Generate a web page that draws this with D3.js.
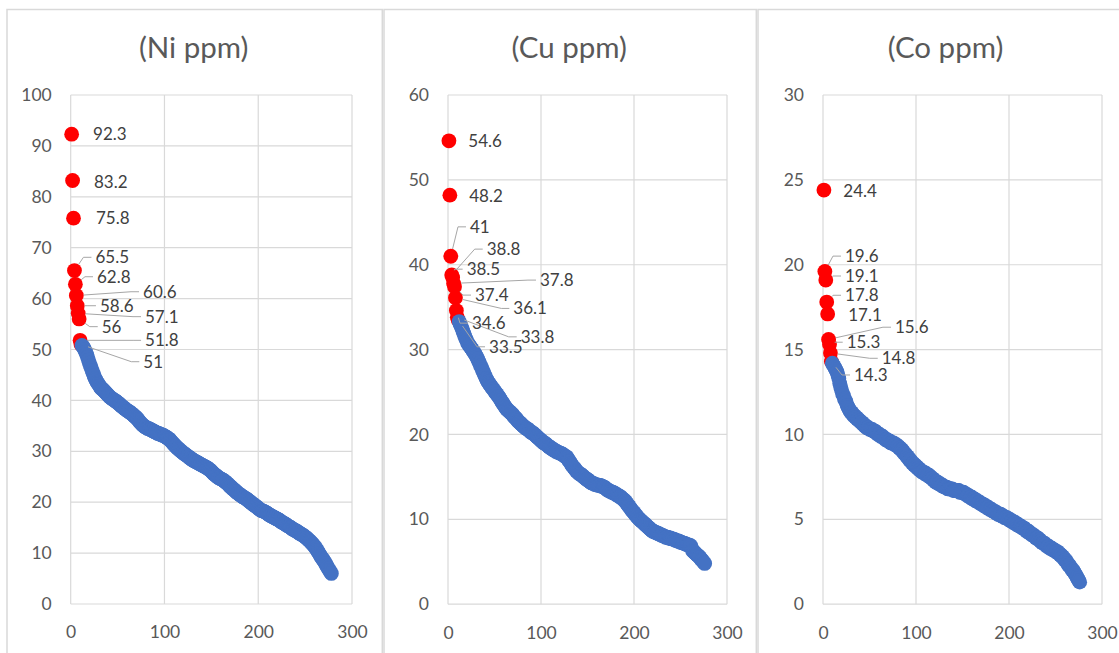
<!DOCTYPE html>
<html><head><meta charset="utf-8">
<script src="https://cdn.jsdelivr.net/npm/d3@7"></script>
<style>
body{margin:0;background:#fff}
svg{display:block}
text{font-family:Lato,'Open Sans',sans-serif}
</style>
</head><body>
<svg id="chart" width="1119" height="653"></svg>
<script>
// ---------------- DATA ----------------
const titles = ["(Ni ppm)", "(Cu ppm)", "(Co ppm)"];
const xTicks = [0, 100, 200, 300];
const niYTicks = [0, 10, 20, 30, 40, 50, 60, 70, 80, 90, 100];
const cuYTicks = [0, 10, 20, 30, 40, 50, 60];
const coYTicks = [0, 5, 10, 15, 20, 25, 30];

// highlighted (labelled, red) top values, rank 1..n
const niTop = [92.3, 83.2, 75.8, 65.5, 62.8, 60.6, 58.6, 57.1, 56, 51.8, 51];
const cuTop = [54.6, 48.2, 41, 38.8, 38.5, 37.8, 37.4, 36.1, 34.6, 33.8, 33.5];
const coTop = [24.4, 19.6, 19.1, 17.8, 17.1, 15.6, 15.3, 14.8, 14.3];

// remaining values (blue), continuing the rank order
const niRest = [
50.8,50.6,50.3,49.9,49.5,49.0,48.5,47.9,47.3,
46.8,46.3,45.8,45.3,44.8,44.3,44.0,43.6,43.3,43.1,
42.8,42.5,42.3,42.2,42.0,41.8,41.6,41.4,41.2,41.0,
40.8,40.6,40.5,40.3,40.2,40.1,40.0,39.9,39.7,39.6,
39.4,39.3,39.1,38.9,38.8,38.6,38.5,38.3,38.2,38.0,
37.9,37.8,37.7,37.5,37.4,37.3,37.1,36.9,36.8,36.6,
36.4,36.2,35.9,35.7,35.5,35.3,35.1,35.0,34.8,34.7,
34.6,34.5,34.5,34.4,34.3,34.2,34.1,34.0,33.9,33.8,
33.7,33.6,33.5,33.5,33.4,33.3,33.2,33.2,33.1,33.0,
32.9,32.8,32.6,32.5,32.4,32.2,32.0,31.8,31.6,31.4,
31.2,31.0,30.8,30.6,30.5,30.3,30.1,30.0,29.8,29.7,
29.5,29.4,29.3,29.1,29.0,28.9,28.7,28.6,28.5,28.3,
28.2,28.1,28.0,27.9,27.8,27.7,27.6,27.5,27.4,27.3,
27.2,27.1,27.0,26.9,26.8,26.7,26.5,26.4,26.3,26.1,
25.9,25.7,25.5,25.4,25.2,25.1,24.9,24.8,24.7,24.6,
24.5,24.4,24.3,24.1,24.0,23.8,23.7,23.5,23.3,23.1,
23.0,22.8,22.6,22.5,22.3,22.1,22.0,21.8,21.7,21.5,
21.4,21.3,21.1,21.0,20.9,20.8,20.7,20.6,20.4,20.3,
20.1,20.0,19.8,19.7,19.5,19.4,19.3,19.1,19.0,18.8,
18.7,18.5,18.4,18.3,18.3,18.2,18.1,18.0,17.9,17.8,
17.6,17.5,17.4,17.3,17.2,17.1,17.0,16.9,16.8,16.7,
16.6,16.5,16.4,16.2,16.1,16.0,15.9,15.8,15.7,15.5,
15.4,15.3,15.2,15.1,15.0,14.8,14.7,14.6,14.5,14.4,
14.3,14.2,14.0,13.9,13.8,13.7,13.6,13.5,13.3,13.2,
13.0,12.9,12.7,12.5,12.4,12.2,12.0,11.8,11.6,11.3,
11.1,10.8,10.5,10.2,9.9,9.6,9.3,9.0,8.8,8.5,
8.2,7.9,7.5,7.2,6.9,6.6,6.3,6.0
];

const cuRest = [
33.3,33.0,32.8,32.5,32.2,31.9,31.6,31.3,31.1,30.8,
30.6,30.5,30.3,30.2,30.0,29.8,29.7,29.5,29.3,29.1,
28.9,28.6,28.4,28.1,27.9,27.6,27.4,27.1,26.9,26.6,
26.4,26.2,26.0,25.9,25.7,25.6,25.4,25.3,25.1,25.0,
24.8,24.7,24.5,24.4,24.2,24.0,23.8,23.7,23.5,23.3,
23.2,23.0,22.9,22.8,22.7,22.6,22.5,22.4,22.3,22.1,
22.0,21.9,21.8,21.6,21.5,21.4,21.3,21.2,21.1,21.0,
20.9,20.8,20.7,20.7,20.6,20.5,20.4,20.3,20.2,20.2,
20.1,20.0,19.9,19.8,19.7,19.6,19.5,19.4,19.3,19.2,
19.1,19.0,19.0,18.9,18.8,18.7,18.6,18.5,18.5,18.4,
18.3,18.2,18.2,18.1,18.0,18.0,17.9,17.9,17.8,17.8,
17.7,17.7,17.6,17.5,17.4,17.4,17.3,17.1,16.9,16.8,
16.6,16.4,16.3,16.1,16.0,15.9,15.7,15.6,15.5,15.4,
15.3,15.3,15.2,15.1,15.0,14.9,14.8,14.7,14.7,14.6,
14.5,14.4,14.3,14.3,14.2,14.2,14.1,14.1,14.1,14.0,
14.0,14.0,14.0,13.9,13.9,13.8,13.8,13.7,13.6,13.5,
13.4,13.4,13.3,13.3,13.2,13.2,13.1,13.1,13.0,12.9,
12.9,12.8,12.7,12.7,12.6,12.5,12.4,12.3,12.2,12.1,
11.9,11.8,11.6,11.5,11.3,11.2,11.0,10.9,10.8,10.6,
10.5,10.4,10.2,10.1,10.0,9.9,9.8,9.7,9.6,9.5,
9.4,9.3,9.2,9.1,9.0,8.9,8.8,8.7,8.6,8.6,
8.5,8.5,8.4,8.4,8.3,8.3,8.2,8.2,8.1,8.1,
8.0,8.0,7.9,7.9,7.9,7.8,7.8,7.8,7.7,7.7,
7.7,7.6,7.6,7.5,7.5,7.5,7.4,7.4,7.3,7.3,
7.2,7.2,7.2,7.1,7.1,7.0,7.0,7.0,6.9,6.9,
6.6,6.3,6.2,6.1,6.0,5.9,5.8,5.7,5.6,5.5,
5.3,5.2,5.1,4.9,4.8
];

const coRest = [
14.2,14.1,14.0,13.9,13.8,13.7,13.5,13.3,13.0,12.8,
12.6,12.4,12.3,12.1,12.0,11.9,11.7,11.6,11.5,11.4,
11.3,11.3,11.2,11.1,11.1,11.0,11.0,10.9,10.9,10.8,
10.8,10.7,10.7,10.6,10.6,10.5,10.5,10.4,10.4,10.4,
10.3,10.3,10.3,10.3,10.2,10.2,10.2,10.1,10.1,10.0,
10.0,10.0,9.9,9.9,9.9,9.8,9.8,9.7,9.7,9.7,
9.6,9.6,9.6,9.5,9.5,9.5,9.5,9.4,9.4,9.4,
9.3,9.3,9.2,9.2,9.1,9.1,9.0,8.9,8.9,8.8,
8.7,8.7,8.6,8.5,8.5,8.4,8.3,8.3,8.2,8.2,
8.1,8.1,8.0,8.0,7.9,7.9,7.8,7.8,7.8,7.7,
7.7,7.7,7.6,7.6,7.6,7.5,7.5,7.4,7.4,7.3,
7.3,7.2,7.2,7.2,7.1,7.1,7.1,7.0,7.0,7.0,
6.9,6.9,6.9,6.9,6.8,6.8,6.8,6.8,6.8,6.8,
6.7,6.7,6.7,6.7,6.7,6.7,6.7,6.6,6.6,6.6,
6.6,6.6,6.5,6.5,6.5,6.4,6.4,6.4,6.3,6.3,
6.3,6.2,6.2,6.2,6.1,6.1,6.1,6.0,6.0,6.0,
5.9,5.9,5.9,5.8,5.8,5.8,5.7,5.7,5.7,5.6,
5.6,5.6,5.5,5.5,5.5,5.4,5.4,5.4,5.3,5.3,
5.3,5.3,5.2,5.2,5.2,5.1,5.1,5.1,5.1,5.0,
5.0,5.0,4.9,4.9,4.9,4.8,4.8,4.8,4.7,4.7,
4.7,4.6,4.6,4.6,4.5,4.5,4.5,4.4,4.4,4.3,
4.3,4.3,4.2,4.2,4.1,4.1,4.1,4.0,4.0,3.9,
3.9,3.9,3.8,3.8,3.7,3.7,3.6,3.6,3.6,3.5,
3.5,3.4,3.4,3.4,3.3,3.3,3.3,3.2,3.2,3.2,
3.1,3.1,3.1,3.0,3.0,2.9,2.9,2.8,2.8,2.7,
2.6,2.6,2.5,2.4,2.3,2.3,2.2,2.1,2.0,2.0,
1.9,1.8,1.7,1.6,1.5,1.4,1.3
];

// ---------------- LABEL LAYOUT (pixel offsets of each data label from its point) ----------------
const niLabelDx = [21.4, 21.4, 22.5, 21, 21.6, 66.7, 22.7, 66.8, 22.6, 65, 62.3];
const niLabelDy = [0, 1.5, 0.3, -13.3, -7.6, -3.8, 0, 3.3, 7.7, 0, 17.3];
const niLeader  = [0, 0, 0, 1, 1, 1, 1, 1, 1, 1, 1];
const cuLabelDx = [19.4, 19.4, 19.2, 35, 14, 86.4, 20.5, 57.9, 15.6, 63.4, 30.8];
const cuLabelDy = [0.4, 0.6, -29.4, -25.8, -8.3, -3.3, 8.3, 10.6, 12.6, 19.5, 26.9];
const cuLeader  = [0, 0, 1, 1, 1, 1, 1, 1, 1, 1, 1];
const coLabelDx = [19.4, 20.1, 19.2, 18.3, 20.6, 66.4, 17.2, 51.3, 22.6];
const coLabelDy = [0.9, -15.4, -4.0, -6.8, 1.2, -12.2, -2.3, 5.3, 13.5];
const coLeader  = [0, 1, 1, 1, 0, 1, 1, 1, 1];

// ---------------- LAYOUT ----------------
const panels = [
  {title: titles[0], top: niTop, rest: niRest, yTicks: niYTicks, dx: niLabelDx, dy: niLabelDy, leader: niLeader,
   frame: [7, 382.3], plot: {l: 70.7, r: 352, t: 95, b: 604}},
  {title: titles[1], top: cuTop, rest: cuRest, yTicks: cuYTicks, dx: cuLabelDx, dy: cuLabelDy, leader: cuLeader,
   frame: [384, 756.3], plot: {l: 448, r: 727, t: 95, b: 604.2}},
  {title: titles[2], top: coTop, rest: coRest, yTicks: coYTicks, dx: coLabelDx, dy: coLabelDy, leader: coLeader,
   frame: [758, 1135], plot: {l: 823, r: 1102, t: 95, b: 604.2}}
];

const BLUE = "#4472C4", RED = "#FF0000", GRID = "#d9d9d9";
const R = 7.4;
const svg = d3.select("#chart");
svg.append("rect").attr("width", 1119).attr("height", 653).attr("fill", "#fff");

panels.forEach(p => {
  const g = svg.append("g");
  // frame
  g.append("rect").attr("x", p.frame[0]).attr("y", 9.5)
    .attr("width", p.frame[1] - p.frame[0]).attr("height", 700)
    .attr("fill", "#fff").attr("stroke", GRID).attr("stroke-width", 1.5);

  const x = d3.scaleLinear().domain([0, 300]).range([p.plot.l, p.plot.r]);
  const yMax = d3.max(p.yTicks);
  const y = d3.scaleLinear().domain([0, yMax]).range([p.plot.b, p.plot.t]);

  // title
  g.append("text").attr("x", (p.frame[0] + p.frame[1]) / 2 - 1).attr("y", 48).attr("dy", "0.35em")
    .attr("text-anchor", "middle").attr("font-size", 29.5).attr("fill", "#595959").text(p.title);

  // gridlines
  g.append("g").selectAll("line").data(p.yTicks).join("line")
    .attr("x1", x(0)).attr("x2", x(300)).attr("y1", d => y(d)).attr("y2", d => y(d))
    .attr("stroke", GRID).attr("stroke-width", 1.2);
  g.append("g").selectAll("line").data(xTicks).join("line")
    .attr("y1", y(0)).attr("y2", y(yMax)).attr("x1", d => x(d)).attr("x2", d => x(d))
    .attr("stroke", GRID).attr("stroke-width", 1.2);

  // axes (labels only)
  const ay = g.append("g").attr("transform", `translate(${x(0)},0)`)
    .call(d3.axisLeft(y).tickValues(p.yTicks).tickSize(0).tickPadding(19).tickFormat(d3.format("d")));
  const ax = g.append("g").attr("transform", `translate(0,${y(0)})`)
    .call(d3.axisBottom(x).tickValues(xTicks).tickSize(0).tickPadding(22).tickFormat(d3.format("d")));
  [ay, ax].forEach(a => {
    a.select(".domain").remove();
    a.selectAll("text").attr("font-size", 17.5).attr("fill", "#595959").style("font-family", "Lato,'Open Sans',sans-serif");
  });

  // points
  const pts = p.top.map((v, i) => ({r: i + 1, v, red: true, i}))
    .concat(p.rest.map((v, i) => ({r: p.top.length + 1 + i, v, red: false})));
  g.append("g").selectAll("circle").data(pts).join("circle")
    .attr("cx", d => x(d.r)).attr("cy", d => y(d.v)).attr("r", R)
    .attr("fill", d => d.red ? RED : BLUE);

  // labels + leaders
  const labs = pts.filter(d => d.red).map(d => {
    const px = x(d.r), py = y(d.v);
    return {px, py, lx: px + p.dx[d.i], ly: py + p.dy[d.i], leader: p.leader[d.i], text: String(d.v)};
  });
  g.append("g").selectAll("path").data(labs.filter(d => d.leader)).join("path")
    .attr("d", d => {
      const x0 = d.lx - 4, kx = d.lx - 12, ky = d.ly;
      const vx = d.px - kx, vy = d.py - ky, len = Math.hypot(vx, vy);
      const ex = len > R ? d.px - vx / len * R : kx, ey = len > R ? d.py - vy / len * R : ky;
      return `M${x0},${ky}L${kx},${ky}L${ex},${ey}`;
    })
    .attr("fill", "none").attr("stroke", "#a6a6a6").attr("stroke-width", 1);
  g.append("g").selectAll("text").data(labs).join("text")
    .attr("x", d => d.lx).attr("y", d => d.ly).attr("dy", "0.35em")
    .attr("font-size", 17).attr("fill", "#404040").text(d => d.text);
});
</script>
</body></html>
